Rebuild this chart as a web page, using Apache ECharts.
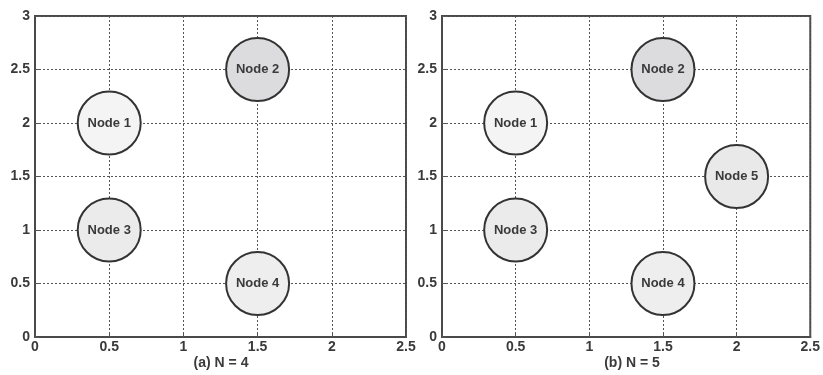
<!DOCTYPE html>
<html>
<head>
<meta charset="utf-8">
<script src="https://cdn.jsdelivr.net/npm/echarts@6/dist/echarts.min.js"></script>
<style>
  html, body { margin: 0; padding: 0; background: #fff; }
  #chart { width: 823px; height: 375px; }
</style>
</head>
<body>
<div id="chart"></div>
<script>
// Node placements for the two layouts
const panelTitles = ['(a) N = 4', '(b) N = 5'];
const nodeNamesA = ['Node 1', 'Node 2', 'Node 3', 'Node 4'];
const nodeXA = [0.5, 1.5, 0.5, 1.5];
const nodeYA = [2, 2.5, 1, 0.5];
const nodeNamesB = ['Node 1', 'Node 2', 'Node 3', 'Node 4', 'Node 5'];
const nodeXB = [0.5, 1.5, 0.5, 1.5, 2];
const nodeYB = [2, 2.5, 1, 0.5, 1.5];
const xTicks = [0, 0.5, 1, 1.5, 2, 2.5];
const yTicks = [0, 0.5, 1, 1.5, 2, 2.5, 3];

// Fill per node name (Node 2 is shaded darker)
const nodeFill = {
  'Node 1': '#f4f4f4',
  'Node 2': '#dcdcdf',
  'Node 3': '#ebebeb',
  'Node 4': '#eeeeee',
  'Node 5': '#e9e9e9'
};

const FONT = 'Liberation Sans, Arial, sans-serif';
const chart = echarts.init(document.getElementById('chart'));

const labelFont = { fontFamily: FONT, fontSize: 14, fontWeight: 'bold', color: '#3a3a3a' };
const gridLine = { show: true, lineStyle: { color: '#555', width: 1, type: [2, 2] } };

function makeX(gi) {
  return {
    type: 'value', gridIndex: gi, min: xTicks[0], max: xTicks[xTicks.length - 1], interval: 0.5,
    axisLine: { show: true, onZero: false, lineStyle: { color: '#4a4a4a', width: 2 } },
    axisTick: { show: true, inside: true, length: 4, lineStyle: { color: '#555' } },
    axisLabel: Object.assign({ margin: 3, formatter: v => String(v) }, labelFont),
    splitLine: gridLine
  };
}
function makeY(gi) {
  return {
    type: 'value', gridIndex: gi, min: yTicks[0], max: yTicks[yTicks.length - 1], interval: 0.5,
    axisLine: { show: true, onZero: false, lineStyle: { color: '#4a4a4a', width: 2 } },
    axisTick: { show: true, inside: true, length: 4, lineStyle: { color: '#555' } },
    axisLabel: Object.assign({ margin: 5, formatter: v => String(v) }, labelFont),
    splitLine: gridLine
  };
}
function nodeSeries(gi, names, xs, ys) {
  return {
    type: 'scatter', xAxisIndex: gi, yAxisIndex: gi,
    symbol: 'circle', symbolSize: 63,
    data: names.map((n, i) => ({
      name: n, value: [xs[i], ys[i]],
      itemStyle: { color: nodeFill[n], borderColor: '#333', borderWidth: 2, opacity: 1 }
    })),
    label: {
      show: true, position: 'inside', formatter: p => p.name,
      fontFamily: FONT, fontSize: 13, fontWeight: 'bold', color: '#3a3a3a'
    },
    z: 5
  };
}

const titleStyle = { fontFamily: FONT, fontSize: 14, fontWeight: 'bold', color: '#3a3a3a' };

chart.setOption({
  backgroundColor: '#fff',
  animation: false,
  grid: [
    { left: 35, top: 16, width: 371, height: 321, show: true, borderColor: '#4a4a4a', borderWidth: 2, backgroundColor: 'transparent' },
    { left: 442, top: 16, width: 373, height: 321, show: true, borderColor: '#4a4a4a', borderWidth: 2, backgroundColor: 'transparent' }
  ],
  title: [
    { text: panelTitles[0], left: 216, top: 351, textAlign: 'center', textStyle: titleStyle },
    { text: panelTitles[1], left: 627, top: 351, textAlign: 'center', textStyle: titleStyle }
  ],
  xAxis: [makeX(0), makeX(1)],
  yAxis: [makeY(0), makeY(1)],
  series: [
    nodeSeries(0, nodeNamesA, nodeXA, nodeYA),
    nodeSeries(1, nodeNamesB, nodeXB, nodeYB)
  ]
});
</script>
</body>
</html>
